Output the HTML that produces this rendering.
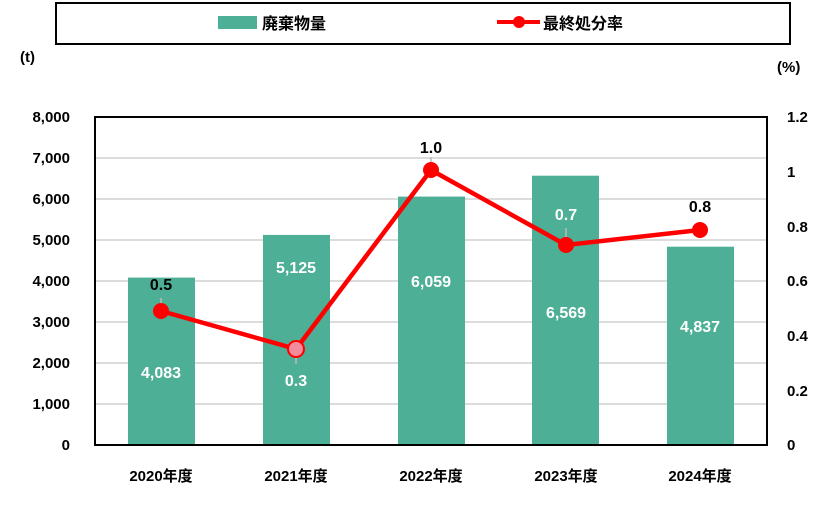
<!DOCTYPE html>
<html><head><meta charset="utf-8"><style>body{margin:0;background:#fff}svg{display:block}</style></head><body>
<svg width="827" height="525" xmlns="http://www.w3.org/2000/svg" font-family="Liberation Sans, Noto Sans CJK JP, sans-serif" font-weight="bold">
<rect x="56" y="3" width="734" height="41" fill="#fff" stroke="#000" stroke-width="2"/>
<rect x="218" y="16" width="39" height="13" fill="#4caf96"/>
<text x="262" y="29" font-size="16">廃棄物量</text>
<line x1="497" y1="22" x2="540" y2="22" stroke="#f00" stroke-width="4"/>
<circle cx="519" cy="22" r="6" fill="#f00"/>
<text x="543" y="29" font-size="16">最終処分率</text>
<text x="20" y="62" font-size="15">(t)</text>
<text x="777" y="72" font-size="15">(%)</text>
<g stroke="#d0d0d0" stroke-width="1.5">
<line x1="95" y1="158" x2="767" y2="158"/><line x1="95" y1="199" x2="767" y2="199"/><line x1="95" y1="240" x2="767" y2="240"/><line x1="95" y1="281" x2="767" y2="281"/><line x1="95" y1="322" x2="767" y2="322"/><line x1="95" y1="363" x2="767" y2="363"/><line x1="95" y1="404" x2="767" y2="404"/>
</g>
<g font-size="15" text-anchor="end">
<text x="70" y="122">8,000</text><text x="70" y="163">7,000</text><text x="70" y="204">6,000</text><text x="70" y="245">5,000</text><text x="70" y="286">4,000</text><text x="70" y="327">3,000</text><text x="70" y="368">2,000</text><text x="70" y="409">1,000</text><text x="70" y="450">0</text>
</g>
<g font-size="15">
<text x="787" y="122">1.2</text><text x="787" y="177">1</text><text x="787" y="232">0.8</text><text x="787" y="286">0.6</text><text x="787" y="341">0.4</text><text x="787" y="396">0.2</text><text x="787" y="450">0</text>
</g>
<g fill="#4caf96">
<rect x="128" y="277.6" width="67" height="167.4"/>
<rect x="263" y="234.9" width="67" height="210.1"/>
<rect x="398" y="196.6" width="67" height="248.4"/>
<rect x="532" y="175.7" width="67" height="269.3"/>
<rect x="667" y="246.7" width="67" height="198.3"/>
</g>
<rect x="95" y="117" width="672" height="328" fill="none" stroke="#000" stroke-width="2"/>
<g font-size="16" fill="#fff" text-anchor="middle">
<text x="161" y="378">4,083</text><text x="296" y="273">5,125</text><text x="431" y="287">6,059</text><text x="566" y="318">6,569</text><text x="700" y="332">4,837</text>
<text x="296" y="386">0.3</text><text x="566" y="220">0.7</text>
</g>
<g stroke="#bbb" stroke-width="1.5"><line x1="161" y1="298" x2="161" y2="311"/><line x1="296" y1="349" x2="296" y2="364"/><line x1="566" y1="228" x2="566" y2="245"/><line x1="431" y1="157" x2="431" y2="170"/></g>
<polyline points="161,311 296,349 431,170 566,245 700,230" fill="none" stroke="#f00" stroke-width="4.5" stroke-linejoin="round"/>
<g fill="#f00"><circle cx="161" cy="311" r="8"/><circle cx="431" cy="170" r="8"/><circle cx="566" cy="245" r="8"/><circle cx="700" cy="230" r="8"/></g>
<circle cx="296" cy="349" r="8" fill="#f28c9c" stroke="#f00" stroke-width="2"/>
<g font-size="16" text-anchor="middle">
<text x="161" y="290">0.5</text><text x="431" y="153">1.0</text><text x="700" y="212">0.8</text>
</g>
<g font-size="15" text-anchor="middle">
<text x="161" y="481">2020年度</text><text x="296" y="481">2021年度</text><text x="431" y="481">2022年度</text><text x="566" y="481">2023年度</text><text x="700" y="481">2024年度</text>
</g>
</svg>
</body></html>
